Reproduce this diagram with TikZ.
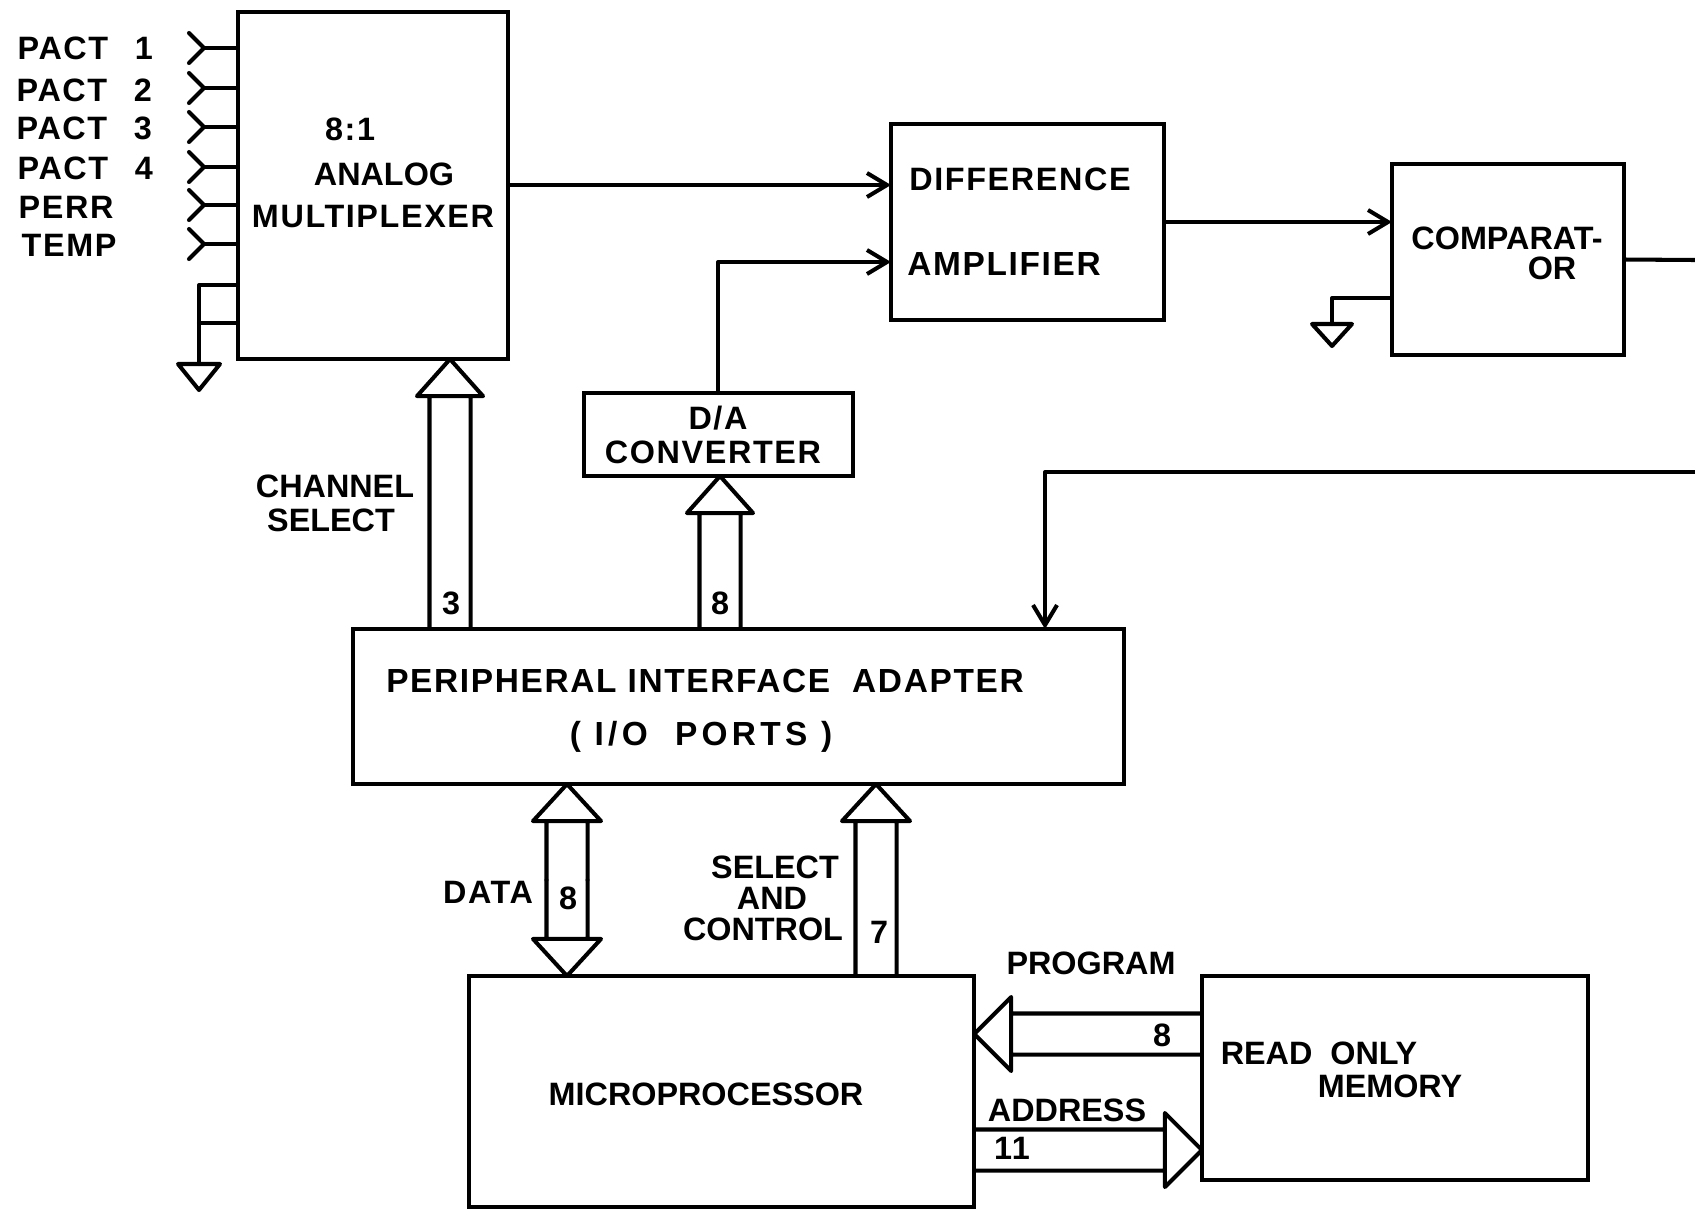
\documentclass[tikz,border=0pt]{standalone}
\usepackage{fontspec}
\setmainfont[LetterSpace=5]{Liberation Sans}
\usetikzlibrary{arrows.meta,calc}
\tikzset{
  wire/.style={line width=1.15pt,line cap=round,line join=round},
  sig/.style={wire,-{Straight Barb[length=2mm,width=2.4mm,line width=1.15pt]}},
  blockbox/.style={draw,line width=1.25pt,inner sep=0pt,outer sep=0pt},
  lbl/.style={inner sep=0pt,font=\fontsize{9.2}{11}\selectfont\bfseries},
  lblw/.style={inner sep=0pt,font=\fontsize{9.5}{11}\selectfont\bfseries},
  lbln/.style={inner sep=0pt,font=\fontsize{9.2}{11}\selectfont\bfseries\addfontfeature{LetterSpace=0}},
  bus/.default=0.33cm,
  bus/.style={wire,to path={
    ($(\tikztotarget)!0.37cm!(\tikztostart)$) coordinate (busbase)
    ($(\tikztostart)!0.205cm!90:(\tikztotarget)$) -- ($(busbase)!0.205cm!90:(\tikztotarget)$)
    ($(\tikztostart)!0.205cm!-90:(\tikztotarget)$) -- ($(busbase)!0.205cm!-90:(\tikztotarget)$)
    ($(busbase)!#1!90:(\tikztotarget)$) -- (\tikztotarget) -- ($(busbase)!#1!-90:(\tikztotarget)$) -- cycle}}
}
\begin{document}
\begin{tikzpicture}[x=0.01cm,y=-0.01cm]
\useasboundingbox (0,0) rectangle (1695,1209);
\fill[white] (0,0) rectangle (1695,1209);
% blocks
\node[blockbox,minimum width=2.70cm,minimum height=3.47cm] (mux) at (373,185.5) {};
\node[blockbox,minimum width=2.73cm,minimum height=1.96cm] (diff) at (1027.5,222) {};
\node[blockbox,minimum width=2.32cm,minimum height=1.91cm] (comp) at (1508,259.5) {};
\node[blockbox,minimum width=2.69cm,minimum height=0.83cm] (dac) at (718.5,434.5) {};
\node[blockbox,minimum width=7.71cm,minimum height=1.55cm] (pia) at (738.5,706.5) {};
\node[blockbox,minimum width=5.05cm,minimum height=2.31cm] (cpu) at (721.5,1091.5) {};
\node[blockbox,minimum width=3.86cm,minimum height=2.04cm] (rom) at (1395,1078) {};
% mux inputs
\foreach \y/\ly/\lx/\t in {48/48/17/{PACT\enspace\ 1},88/90/16/{PACT\enspace\ 2},127/128/16/{PACT\enspace\ 3},
    167/168/17/{PACT\enspace\ 4},205/207/18/PERR,244/245/21/TEMP} {
  \node[lbl,anchor=west] (in\y) at (\lx,\ly) {\t};
  \draw[wire] (mux.west |- 0,\y) -- (204,\y);
  \draw[wire] (189,\y-15) -- (204,\y) -- (189,\y+15);
}
% grounds
\coordinate (gndm) at (199,364);
\coordinate (gndc) at (1332,324);
\draw[wire] (mux.west |- 0,285) -| (gndm);
\draw[wire] (mux.west |- 0,323) -- (gndm |- 0,323);
\draw[wire] (gndm) ++(-21,0) -- ++(42,0) -- ++(-21,26) -- cycle;
\draw[wire] (comp.west |- 0,298) -| (gndc);
\draw[wire] (gndc) ++(-20,0) -- ++(40,0) -- ++(-20,22) -- cycle;
% signals
\coordinate (daup) at (718,262);
\coordinate (cmpout) at (1695,260);
\coordinate (fbin) at (1695,472);
\coordinate (fbdown) at (1045,472);
\draw[sig] (mux.east |- 0,185) -- (diff.west |- 0,185);
\draw[sig] (dac.north -| daup) |- (diff.west |- daup);
\draw[sig] (diff.east) -- (comp.west |- diff.east);
\draw[wire] (comp.east) -- (cmpout);
\draw[sig] (fbin) -- (fbdown) -- (pia.north -| fbdown);
% buses
\coordinate (csbus) at (450,880);
\coordinate (dabus) at (720,880);
\coordinate (databus) at (567,880);
\coordinate (scbus) at (876,880);
\coordinate (prbus) at (0,1034);
\coordinate (adbus) at (0,1150);
\draw[bus] (pia.north -| csbus) to (mux.south -| csbus);
\draw[bus] (pia.north -| dabus) to (dac.south -| dabus);
\draw[bus=0.34cm] (databus) to (pia.south -| databus);
\draw[bus=0.34cm] (databus) to (cpu.north -| databus);
\draw[bus=0.34cm] (cpu.north -| scbus) to (pia.south -| scbus);
\draw[bus=0.37cm] (rom.west |- prbus) to (cpu.east |- prbus);
\draw[bus=0.37cm] (cpu.east |- adbus) to (rom.west |- adbus);
% labels
\node[lbl] (muxa) at (350,129) {8:1};
\node[lbln] (muxb) at (384,174) {ANALOG};
\node[lbl] (muxc) at (373,217) {MULTIPLEXER};
\node[lbl] (diffa) at (1020,179) {DIFFERENCE};
\node[lblw] (diffb) at (1004,264) {AMPLIFIER};
\node[lbln] (compa) at (1507,238) {COMPARAT-};
\node[lbln] (compb) at (1552,268) {OR};
\node[lbl] (daca) at (718,418) {D/A};
\node[lbl] (dacb) at (713,452) {CONVERTER};
\node[lbln] (csa) at (335,486) {CHANNEL};
\node[lbln] (csb) at (331,520) {SELECT};
\node[lbl] (csn) at (451,603) {3};
\node[lbl] (dan) at (720,603) {8};
\node[lblw] (piaa) at (705,681) {PERIPHERAL INTERFACE\ \ ADAPTER};
\node[lblw] (piab) at (701,737) {\addfontfeature{LetterSpace=13}( I/O\ \ PORTS )};
\node[lbl] (dataa) at (488,892) {DATA};
\node[lbl] (datan) at (568,898) {8};
\node[lbln] (sca) at (775,867) {SELECT};
\node[lbln] (scb) at (772,898) {AND};
\node[lbln] (scc) at (763,929) {CONTROL};
\node[lbl] (scn) at (879,932) {7};
\node[lbln] (pra) at (1091,963) {PROGRAM};
\node[lbl] (prn) at (1162,1035) {8};
\node[lbln] (ada) at (1067,1110) {ADDRESS};
\node[lbl] (adn) at (1012,1148) {11};
\node[lbln] (cpua) at (706,1094) {MICROPROCESSOR};
\node[lbln] (roma) at (1319,1053) {READ\ \ ONLY};
\node[lbln] (romb) at (1390,1086) {MEMORY};
\end{tikzpicture}
\end{document}
